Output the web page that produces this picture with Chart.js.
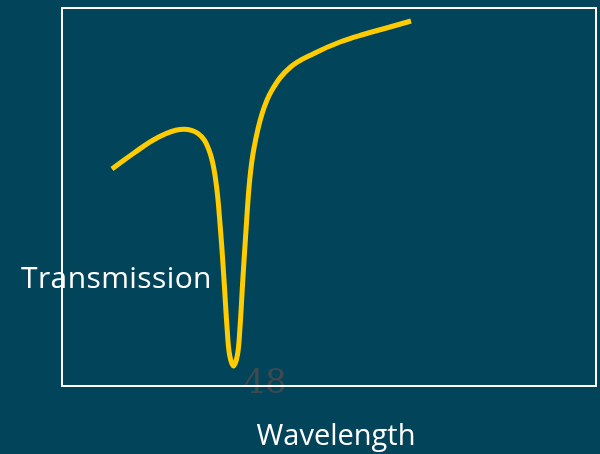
<!DOCTYPE html>
<html lang="en">
<head>
    <meta charset="UTF-8">
    <title>Transmission vs Wavelength</title>
    <style>
        html, body { margin: 0; padding: 0; background: #02445a; }
        canvas { display: block; }
    </style>
</head>
<body>
    <canvas id="myChart" width="600" height="454"></canvas>

    <script src="https://cdn.jsdelivr.net/npm/chart.js@4/dist/chart.umd.min.js"></script>
    <script>
        // wavelength (arbitrary units, 0-100 across the box)
        var wavelength = [9.36, 13.48, 17.79, 22.10, 25.47, 27.53, 28.78, 29.68, 30.34, 30.94, 31.39, 32.12,
                          32.85, 33.30, 33.86, 34.46, 35.15, 35.96, 37.45, 39.33, 42.70, 47.38,
                          52.06, 56.74, 61.42, 65.36];
        // transmission (arbitrary units, 0-100 bottom to top)
        var transmission = [57.41, 61.64, 65.61, 67.86, 66.80, 62.43, 54.50, 41.27, 28.04, 14.81, 8.20, 5.29,
                            8.20, 14.81, 28.04, 41.27, 54.50, 62.96, 71.96, 78.31, 84.26, 88.10,
                            91.01, 93.12, 94.97, 96.56];

        var points = [];
        for (var i = 0; i < wavelength.length; i++) {
            points.push({ x: wavelength[i], y: transmission[i] });
        }

        // frame and labels drawn around the chart area
        var decor = {
            id: 'decor',
            beforeDatasetsDraw: function (chart) {
                var ctx = chart.ctx;
                var a = chart.chartArea;
                ctx.save();
                ctx.fillStyle = '#3f4a4f';
                ctx.font = '34px "DejaVu Serif", serif';
                ctx.textAlign = 'center';
                ctx.textBaseline = 'alphabetic';
                ctx.fillText('48', 265, 393);
                ctx.strokeStyle = '#ffffff';
                ctx.lineWidth = 2;
                ctx.strokeRect(a.left, a.top, a.right - a.left, a.bottom - a.top);
                ctx.restore();
            },
            afterDatasetsDraw: function (chart) {
                var ctx = chart.ctx;
                ctx.save();
                ctx.fillStyle = '#ffffff';
                ctx.font = '30px "Open Sans", sans-serif';
                ctx.textBaseline = 'alphabetic';
                ctx.textAlign = 'left';
                ctx.letterSpacing = '0.4px';
                ctx.fillText('Transmission', 21, 288);
                ctx.letterSpacing = '0px';
                ctx.font = '29px "Open Sans", sans-serif';
                ctx.textAlign = 'center';
                ctx.fillText('Wavelength', 336, 445);
                ctx.restore();
            }
        };

        var ctx = document.getElementById('myChart').getContext('2d');
        var myChart = new Chart(ctx, {
            type: 'line',
            data: {
                datasets: [{
                    data: points,
                    borderColor: '#ffcc00',
                    borderWidth: 5,
                    pointRadius: 0,
                    fill: false,
                    tension: 0.4
                }]
            },
            options: {
                responsive: false,
                animation: false,
                layout: { padding: { left: 62, top: 8, right: 4, bottom: 68 } },
                plugins: { legend: { display: false }, tooltip: { enabled: false } },
                scales: {
                    x: { type: 'linear', min: 0, max: 100, display: false },
                    y: { type: 'linear', min: 0, max: 100, display: false }
                }
            },
            plugins: [decor]
        });
    </script>
</body>
</html>
